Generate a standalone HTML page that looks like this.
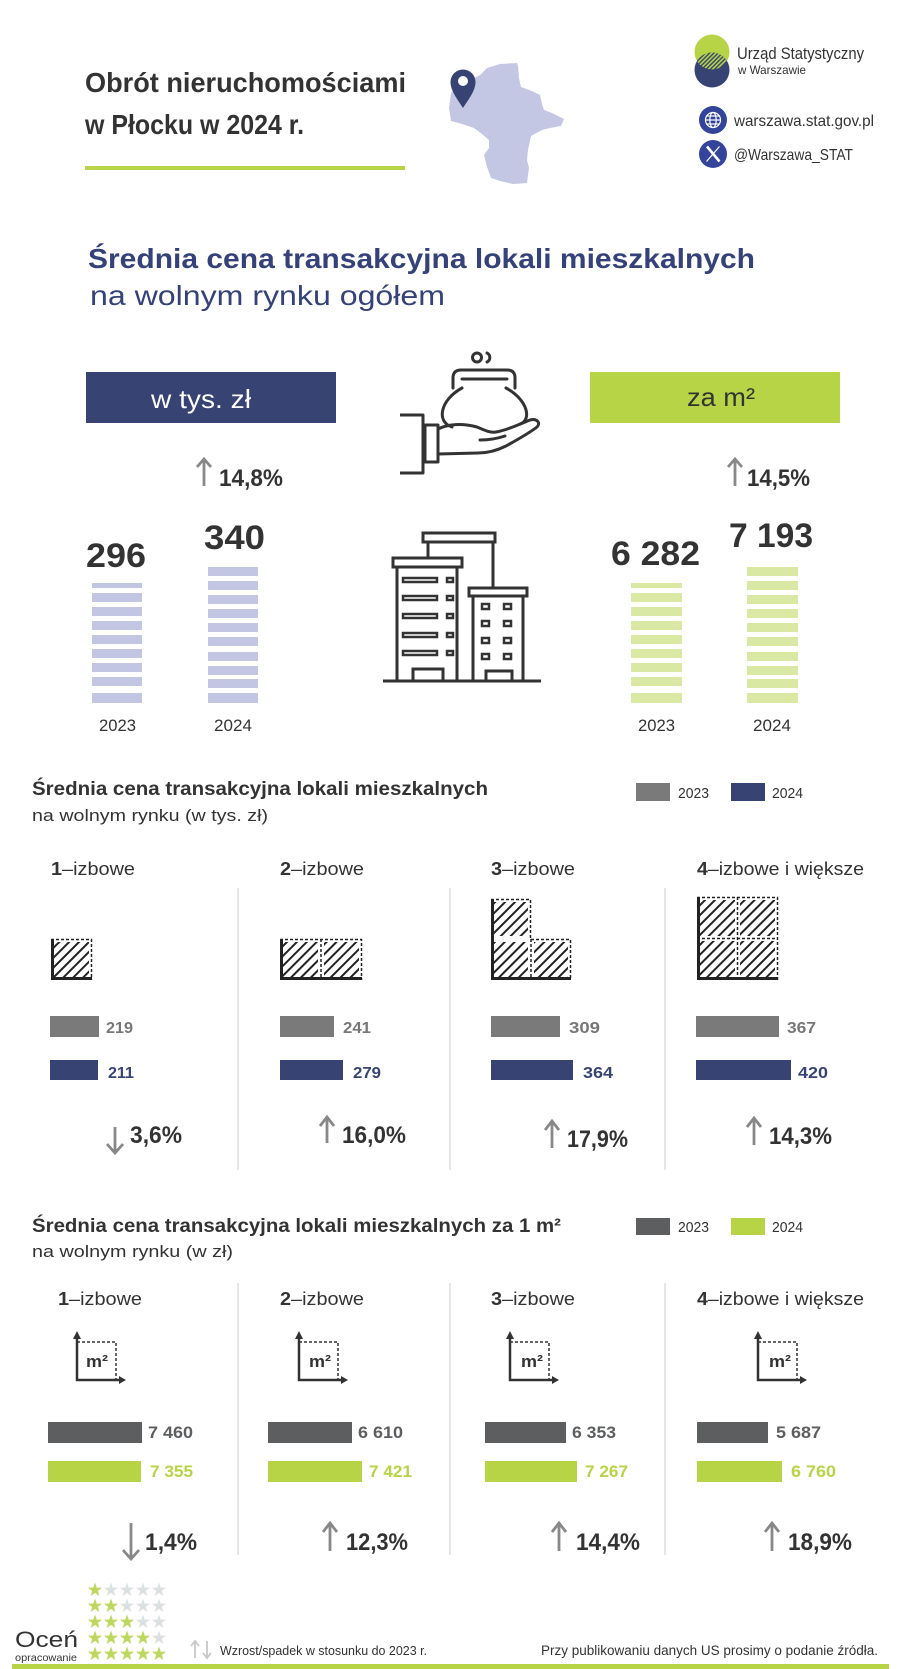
<!DOCTYPE html>
<html><head><meta charset="utf-8">
<style>
html,body{margin:0;padding:0;background:#fff}
svg{display:block}
text{font-family:"Liberation Sans",sans-serif}
</style></head>
<body>
<svg width="900" height="1669" viewBox="0 0 900 1669" xmlns="http://www.w3.org/2000/svg">
<defs>
  <pattern id="hatch" width="7" height="7" patternUnits="userSpaceOnUse" patternTransform="rotate(45)">
    <line x1="1" y1="0" x2="1" y2="7" stroke="#222" stroke-width="2"/>
  </pattern>
  <pattern id="lhatch" width="3" height="3" patternUnits="userSpaceOnUse" patternTransform="rotate(45)">
    <rect width="3" height="3" fill="#374373"/>
    <line x1="0.8" y1="0" x2="0.8" y2="3" stroke="#b6d445" stroke-width="1.6"/>
  </pattern>
  <clipPath id="clipG"><circle cx="712" cy="52" r="17.5"/></clipPath>
  <path id="star" d="M0,-7.5 L1.76,-2.43 L7.13,-2.32 L2.85,0.93 L4.41,6.07 L0,3 L-4.41,6.07 L-2.85,0.93 L-7.13,-2.32 L-1.76,-2.43 Z"/>
</defs>

<!-- HEADER -->
<text x="85" y="92" font-size="28" font-weight="bold" fill="#333" textLength="321" lengthAdjust="spacingAndGlyphs">Obrót nieruchomościami</text>
<text x="85" y="134" font-size="28" font-weight="bold" fill="#333" textLength="219" lengthAdjust="spacingAndGlyphs">w Płocku w 2024 r.</text>
<rect x="85" y="166" width="320" height="4" fill="#b6d445"/>

<!-- map -->
<polygon fill="#c3c7e3" points="487,68 500,64 517,63 518,66 519,78 521,87 532,91 540,95 542,104 544,110 552,113 564,119 561,126 550,128 542,130 531,136 528,150 527,160 529,168 527,183 513,184 500,181 491,178 487,167 484,155 489,148 489,140 482,134 474,128 462,124 451,121 449,108 451,93 458,86 470,80 480,75"/>
<path d="M463,108 C458,100 450.5,91 450.5,82 A12.5,12.5 0 1 1 475.5,82 C475.5,91 468,100 463,108 Z" fill="#374373"/>
<circle cx="463" cy="81" r="5" fill="#fff"/>

<!-- logo -->
<circle cx="712" cy="52" r="17.5" fill="#b6d445"/>
<circle cx="712" cy="70" r="17.5" fill="#374373"/>
<g clip-path="url(#clipG)"><circle cx="712" cy="70" r="17.5" fill="url(#lhatch)"/></g>
<text x="737" y="59" font-size="17" fill="#333" textLength="127" lengthAdjust="spacingAndGlyphs">Urząd Statystyczny</text>
<text x="738" y="74" font-size="12" fill="#333" textLength="68" lengthAdjust="spacingAndGlyphs">w Warszawie</text>

<circle cx="713" cy="120" r="14" fill="#34449a"/>
<g fill="none" stroke="#fff" stroke-width="1.2">
  <circle cx="713" cy="120" r="7.5"/>
  <ellipse cx="713" cy="120" rx="3.2" ry="7.5"/>
  <line x1="705.5" y1="120" x2="720.5" y2="120"/>
  <line x1="707" y1="116" x2="719" y2="116"/>
  <line x1="707" y1="124" x2="719" y2="124"/>
</g>
<text x="734" y="126" font-size="16" fill="#333" textLength="140" lengthAdjust="spacingAndGlyphs">warszawa.stat.gov.pl</text>

<circle cx="713" cy="154" r="14" fill="#34449a"/>
<g stroke="#fff" fill="none">
  <line x1="707" y1="146.5" x2="719.5" y2="161.5" stroke-width="2.6"/>
  <line x1="719.5" y1="146.5" x2="706.5" y2="161.5" stroke-width="1.2"/>
</g>
<text x="734" y="160" font-size="16" fill="#333" textLength="119" lengthAdjust="spacingAndGlyphs">@Warszawa_STAT</text>

<!-- main heading -->
<text x="88" y="268" font-size="28" font-weight="bold" fill="#35427a" textLength="667" lengthAdjust="spacingAndGlyphs">Średnia cena transakcyjna lokali mieszkalnych</text>
<text x="90" y="305" font-size="28" fill="#35427a" textLength="355" lengthAdjust="spacingAndGlyphs">na wolnym rynku ogółem</text>

<!-- boxes -->
<rect x="86" y="372" width="250" height="51" fill="#374373"/>
<text x="151" y="408" font-size="26" fill="#fff" textLength="100" lengthAdjust="spacingAndGlyphs">w tys. zł</text>
<rect x="590" y="372" width="250" height="51" fill="#b6d445"/>
<text x="687" y="406" font-size="26" fill="#333" textLength="68" lengthAdjust="spacingAndGlyphs">za m²</text>

<!-- hand & purse icon -->
<g fill="none" stroke="#333" stroke-width="3" stroke-linecap="round" stroke-linejoin="round">
  <circle cx="477" cy="357.5" r="4.5"/>
  <path d="M487,353 A5,5 0 0 1 487,362"/>
  <path d="M453,388 V378 Q453,370 461,370 H507 Q515,370 515,378 V388"/>
  <line x1="462" y1="379" x2="507" y2="379"/>
  <path d="M462,388 C440,400 436,422 452,427"/>
  <path d="M506,388 C528,400 532,420 520,424"/>
  <path d="M400,415 H423 V473 H400" stroke-linecap="butt"/>
  <rect x="425" y="425" width="13" height="37"/>
  <path d="M438,429 C448,424 462,423 477,427 C484,430 490,433 496,432 C508,430 520,424 530,420 C537,418 541,423 537,427 C528,434 515,441 506,446 C496,451 488,453 478,453 L438,454"/>
  <path d="M480,440 C488,440 496,439 505,436"/>
</g>

<!-- building icon -->
<g fill="#fff" stroke="#333" stroke-width="3">
  <line x1="383" y1="681" x2="541" y2="681"/>
  <line x1="428" y1="542" x2="428" y2="557"/>
  <line x1="493" y1="542" x2="493" y2="587"/>
  <rect x="423" y="533" width="72" height="9"/>
  <rect x="393" y="558" width="69" height="9"/>
  <path d="M397,567 V681 M457,567 V681" fill="none"/>
  <g stroke-width="2.5">
    <rect x="403" y="578" width="34" height="4"/><rect x="447" y="578" width="6" height="4"/>
    <rect x="403" y="596" width="34" height="4"/><rect x="447" y="596" width="6" height="4"/>
    <rect x="403" y="614" width="34" height="4"/><rect x="447" y="614" width="6" height="4"/>
    <rect x="403" y="633" width="34" height="4"/><rect x="447" y="633" width="6" height="4"/>
    <rect x="403" y="651" width="34" height="4"/><rect x="447" y="651" width="6" height="4"/>
  </g>
  <path d="M413,681 V669 H443 V681" fill="none"/>
  <rect x="469" y="588" width="58" height="8"/>
  <path d="M473,596 V681 M523,596 V681" fill="none"/>
  <g stroke-width="2.5">
    <rect x="482" y="604" width="7" height="5"/><rect x="504" y="604" width="7" height="5"/>
    <rect x="482" y="621" width="7" height="5"/><rect x="504" y="621" width="7" height="5"/>
    <rect x="482" y="638" width="7" height="5"/><rect x="504" y="638" width="7" height="5"/>
    <rect x="482" y="654" width="7" height="5"/><rect x="504" y="654" width="7" height="5"/>
  </g>
  <path d="M486,681 V671 H512 V681" fill="none"/>
</g>

<!-- top percentages -->
<g fill="none" stroke="#888" stroke-width="2.8">
  <path d="M204,486 V460 M197,467 L204,459 L211,467"/>
  <path d="M735,486 V460 M728,467 L735,459 L742,467"/>
</g>
<text x="219" y="486" font-size="24" font-weight="bold" fill="#333" textLength="64" lengthAdjust="spacingAndGlyphs">14,8%</text>
<text x="747" y="486" font-size="24" font-weight="bold" fill="#333" textLength="63" lengthAdjust="spacingAndGlyphs">14,5%</text>

<!-- big numbers -->
<text x="86" y="567" font-size="34" font-weight="bold" fill="#333" textLength="60" lengthAdjust="spacingAndGlyphs">296</text>
<text x="204" y="549" font-size="34" font-weight="bold" fill="#333" textLength="61" lengthAdjust="spacingAndGlyphs">340</text>
<text x="611" y="565" font-size="34" font-weight="bold" fill="#333" textLength="89" lengthAdjust="spacingAndGlyphs">6 282</text>
<text x="729" y="547" font-size="34" font-weight="bold" fill="#333" textLength="84" lengthAdjust="spacingAndGlyphs">7 193</text>

<!-- stripes -->
<g fill="#c3c6e2">
  <rect x="92" y="583" width="50" height="5"/>
  <rect x="92" y="593" width="50" height="9"/>
  <rect x="92" y="607" width="50" height="9"/>
  <rect x="92" y="621" width="50" height="9"/>
  <rect x="92" y="635" width="50" height="9"/>
  <rect x="92" y="649" width="50" height="9"/>
  <rect x="92" y="663" width="50" height="9"/>
  <rect x="92" y="677" width="50" height="9"/>
  <rect x="92" y="693" width="50" height="10"/>
  <rect x="208" y="567" width="50" height="9"/>
  <rect x="208" y="581" width="50" height="9"/>
  <rect x="208" y="595" width="50" height="9"/>
  <rect x="208" y="609" width="50" height="9"/>
  <rect x="208" y="623" width="50" height="9"/>
  <rect x="208" y="637" width="50" height="9"/>
  <rect x="208" y="652" width="50" height="9"/>
  <rect x="208" y="666" width="50" height="9"/>
  <rect x="208" y="679" width="50" height="9"/>
  <rect x="208" y="693" width="50" height="10"/>
</g>
<g fill="#d9e9a4">
  <rect x="631" y="583" width="51" height="5"/>
  <rect x="631" y="593" width="51" height="9"/>
  <rect x="631" y="607" width="51" height="9"/>
  <rect x="631" y="621" width="51" height="9"/>
  <rect x="631" y="635" width="51" height="9"/>
  <rect x="631" y="649" width="51" height="9"/>
  <rect x="631" y="663" width="51" height="9"/>
  <rect x="631" y="677" width="51" height="9"/>
  <rect x="631" y="693" width="51" height="10"/>
  <rect x="747" y="567" width="51" height="9"/>
  <rect x="747" y="581" width="51" height="9"/>
  <rect x="747" y="595" width="51" height="9"/>
  <rect x="747" y="609" width="51" height="9"/>
  <rect x="747" y="623" width="51" height="9"/>
  <rect x="747" y="637" width="51" height="9"/>
  <rect x="747" y="652" width="51" height="9"/>
  <rect x="747" y="666" width="51" height="9"/>
  <rect x="747" y="679" width="51" height="9"/>
  <rect x="747" y="693" width="51" height="10"/>
</g>
<g font-size="17" fill="#333">
  <text x="99" y="731" textLength="37" lengthAdjust="spacingAndGlyphs">2023</text>
  <text x="214" y="731" textLength="38" lengthAdjust="spacingAndGlyphs">2024</text>
  <text x="638" y="731" textLength="37" lengthAdjust="spacingAndGlyphs">2023</text>
  <text x="753" y="731" textLength="38" lengthAdjust="spacingAndGlyphs">2024</text>
</g>

<!-- SECTION 2 -->
<text x="32" y="795" font-size="19" font-weight="bold" fill="#333" textLength="456" lengthAdjust="spacingAndGlyphs">Średnia cena transakcyjna lokali mieszkalnych</text>
<text x="32" y="821" font-size="17" fill="#333" textLength="236" lengthAdjust="spacingAndGlyphs">na wolnym rynku (w tys. zł)</text>
<rect x="636" y="783" width="34" height="18" fill="#7a7a7a"/>
<text x="678" y="798" font-size="15" fill="#333" textLength="31" lengthAdjust="spacingAndGlyphs">2023</text>
<rect x="731" y="783" width="34" height="18" fill="#374373"/>
<text x="772" y="798" font-size="15" fill="#333" textLength="31" lengthAdjust="spacingAndGlyphs">2024</text>

<g font-size="18" fill="#333">
  <text x="51" y="875" textLength="84" lengthAdjust="spacingAndGlyphs"><tspan font-weight="bold">1</tspan>–izbowe</text>
  <text x="280" y="875" textLength="84" lengthAdjust="spacingAndGlyphs"><tspan font-weight="bold">2</tspan>–izbowe</text>
  <text x="491" y="875" textLength="84" lengthAdjust="spacingAndGlyphs"><tspan font-weight="bold">3</tspan>–izbowe</text>
  <text x="697" y="875" textLength="167" lengthAdjust="spacingAndGlyphs"><tspan font-weight="bold">4</tspan>–izbowe i większe</text>
</g>
<g stroke="#dedede" stroke-width="1.5">
  <line x1="238" y1="888" x2="238" y2="1170"/>
  <line x1="450" y1="888" x2="450" y2="1170"/>
  <line x1="665" y1="888" x2="665" y2="1170"/>
</g>

<!-- hatched rooms -->
<g>
  <rect x="54" y="942" width="35" height="35" fill="url(#hatch)"/>
  <rect x="283" y="942" width="35" height="35" fill="url(#hatch)"/>
  <rect x="324" y="942" width="35" height="35" fill="url(#hatch)"/>
  <rect x="494" y="902" width="34" height="34" fill="url(#hatch)"/>
  <rect x="494" y="942" width="34" height="35" fill="url(#hatch)"/>
  <rect x="534" y="942" width="34" height="35" fill="url(#hatch)"/>
  <rect x="700" y="900" width="35" height="36" fill="url(#hatch)"/>
  <rect x="740" y="900" width="35" height="36" fill="url(#hatch)"/>
  <rect x="700" y="941" width="35" height="36" fill="url(#hatch)"/>
  <rect x="740" y="941" width="35" height="36" fill="url(#hatch)"/>
</g>
<g fill="none" stroke="#222" stroke-width="1.5" stroke-dasharray="3,2">
  <path d="M51,939.5 H91.5 V980"/>
  <path d="M280,939.5 H361.5 V980 M321,939 V980"/>
  <path d="M491,899.5 H530.5 V939.5 H570.5 V980 M531,939 V980"/>
  <path d="M697,897.5 H777.5 V980 M737.5,897 V980 M697,938.5 H778"/>
</g>
<g fill="none" stroke="#222" stroke-width="3">
  <path d="M52.5,939 V978.5 H92"/>
  <path d="M281.5,939 V978.5 H362"/>
  <path d="M492.5,899 V978.5 H571"/>
  <path d="M698.5,897 V978.5 H778"/>
</g>

<!-- bars section 2 -->
<g fill="#7a7a7a">
  <rect x="50" y="1016" width="49" height="21"/>
  <rect x="280" y="1016" width="54" height="21"/>
  <rect x="491" y="1016" width="69" height="21"/>
  <rect x="696" y="1016" width="83" height="21"/>
</g>
<g fill="#374373">
  <rect x="50" y="1060" width="48" height="20"/>
  <rect x="280" y="1060" width="63" height="20"/>
  <rect x="491" y="1060" width="82" height="20"/>
  <rect x="696" y="1060" width="95" height="20"/>
</g>
<g font-size="16" font-weight="bold" fill="#777">
  <text x="106" y="1033" textLength="27" lengthAdjust="spacingAndGlyphs">219</text>
  <text x="343" y="1033" textLength="28" lengthAdjust="spacingAndGlyphs">241</text>
  <text x="569" y="1033" textLength="31" lengthAdjust="spacingAndGlyphs">309</text>
  <text x="787" y="1033" textLength="29" lengthAdjust="spacingAndGlyphs">367</text>
</g>
<g font-size="16" font-weight="bold" fill="#374373">
  <text x="108" y="1078" textLength="26" lengthAdjust="spacingAndGlyphs">211</text>
  <text x="353" y="1078" textLength="28" lengthAdjust="spacingAndGlyphs">279</text>
  <text x="583" y="1078" textLength="30" lengthAdjust="spacingAndGlyphs">364</text>
  <text x="798" y="1078" textLength="30" lengthAdjust="spacingAndGlyphs">420</text>
</g>

<g fill="none" stroke="#888" stroke-width="2.8">
  <path d="M115,1127 V1152 M107,1144 L115,1153 L123,1144"/>
  <path d="M327,1143 V1118 M320,1126 L327,1117 L334,1126"/>
  <path d="M552,1148 V1122 M545,1130 L552,1121 L559,1130"/>
  <path d="M754,1145 V1119 M747,1127 L754,1118 L761,1127"/>
</g>
<g font-size="24" font-weight="bold" fill="#333">
  <text x="130" y="1143" textLength="52" lengthAdjust="spacingAndGlyphs">3,6%</text>
  <text x="342" y="1143" textLength="64" lengthAdjust="spacingAndGlyphs">16,0%</text>
  <text x="567" y="1147" textLength="61" lengthAdjust="spacingAndGlyphs">17,9%</text>
  <text x="769" y="1144" textLength="63" lengthAdjust="spacingAndGlyphs">14,3%</text>
</g>

<!-- SECTION 3 -->
<text x="32" y="1232" font-size="19" font-weight="bold" fill="#333" textLength="529" lengthAdjust="spacingAndGlyphs">Średnia cena transakcyjna lokali mieszkalnych za 1 m²</text>
<text x="32" y="1257" font-size="17" fill="#333" textLength="201" lengthAdjust="spacingAndGlyphs">na wolnym rynku (w zł)</text>
<rect x="636" y="1218" width="34" height="17" fill="#5d5e60"/>
<text x="678" y="1232" font-size="15" fill="#333" textLength="31" lengthAdjust="spacingAndGlyphs">2023</text>
<rect x="731" y="1218" width="34" height="17" fill="#b6d445"/>
<text x="772" y="1232" font-size="15" fill="#333" textLength="31" lengthAdjust="spacingAndGlyphs">2024</text>

<g font-size="18" fill="#333">
  <text x="58" y="1305" textLength="84" lengthAdjust="spacingAndGlyphs"><tspan font-weight="bold">1</tspan>–izbowe</text>
  <text x="280" y="1305" textLength="84" lengthAdjust="spacingAndGlyphs"><tspan font-weight="bold">2</tspan>–izbowe</text>
  <text x="491" y="1305" textLength="84" lengthAdjust="spacingAndGlyphs"><tspan font-weight="bold">3</tspan>–izbowe</text>
  <text x="697" y="1305" textLength="167" lengthAdjust="spacingAndGlyphs"><tspan font-weight="bold">4</tspan>–izbowe i większe</text>
</g>
<g stroke="#dedede" stroke-width="1.5">
  <line x1="238" y1="1283" x2="238" y2="1555"/>
  <line x1="450" y1="1283" x2="450" y2="1555"/>
  <line x1="665" y1="1283" x2="665" y2="1555"/>
</g>

<!-- m2 icons -->
<g>
  <g fill="none" stroke="#333" stroke-width="1.5" stroke-dasharray="3,2">
    <path d="M77,1342 H116 V1380"/>
    <path d="M299,1342 H338 V1380"/>
    <path d="M510,1342 H549 V1380"/>
    <path d="M758,1342 H797 V1380"/>
  </g>
  <g fill="none" stroke="#333" stroke-width="2.5">
    <path d="M77,1337 V1380 H120"/>
    <path d="M299,1337 V1380 H342"/>
    <path d="M510,1337 V1380 H553"/>
    <path d="M758,1337 V1380 H801"/>
  </g>
  <g fill="#333">
    <polygon points="73,1339 77,1331 81,1339"/><polygon points="119,1376 126,1380 119,1384"/>
    <polygon points="295,1339 299,1331 303,1339"/><polygon points="341,1376 348,1380 341,1384"/>
    <polygon points="506,1339 510,1331 514,1339"/><polygon points="552,1376 559,1380 552,1384"/>
    <polygon points="754,1339 758,1331 762,1339"/><polygon points="800,1376 807,1380 800,1384"/>
  </g>
  <g font-size="17" font-weight="bold" fill="#333">
    <text x="86" y="1367" textLength="22" lengthAdjust="spacingAndGlyphs">m²</text>
    <text x="309" y="1367" textLength="22" lengthAdjust="spacingAndGlyphs">m²</text>
    <text x="521" y="1367" textLength="22" lengthAdjust="spacingAndGlyphs">m²</text>
    <text x="769" y="1367" textLength="22" lengthAdjust="spacingAndGlyphs">m²</text>
  </g>
</g>

<!-- bars section 3 -->
<g fill="#5d5e60">
  <rect x="48" y="1422" width="94" height="21"/>
  <rect x="268" y="1422" width="84" height="21"/>
  <rect x="485" y="1422" width="81" height="21"/>
  <rect x="697" y="1422" width="71" height="21"/>
</g>
<g fill="#b6d445">
  <rect x="48" y="1461" width="93" height="21"/>
  <rect x="268" y="1461" width="94" height="21"/>
  <rect x="485" y="1461" width="92" height="21"/>
  <rect x="697" y="1461" width="85" height="21"/>
</g>
<g font-size="17" font-weight="bold" fill="#5d5e60">
  <text x="148" y="1438" textLength="45" lengthAdjust="spacingAndGlyphs">7 460</text>
  <text x="358" y="1438" textLength="45" lengthAdjust="spacingAndGlyphs">6 610</text>
  <text x="572" y="1438" textLength="44" lengthAdjust="spacingAndGlyphs">6 353</text>
  <text x="776" y="1438" textLength="45" lengthAdjust="spacingAndGlyphs">5 687</text>
</g>
<g font-size="17" font-weight="bold" fill="#b6d445">
  <text x="150" y="1477" textLength="43" lengthAdjust="spacingAndGlyphs">7 355</text>
  <text x="369" y="1477" textLength="43" lengthAdjust="spacingAndGlyphs">7 421</text>
  <text x="585" y="1477" textLength="43" lengthAdjust="spacingAndGlyphs">7 267</text>
  <text x="791" y="1477" textLength="45" lengthAdjust="spacingAndGlyphs">6 760</text>
</g>

<g fill="none" stroke="#888" stroke-width="2.8">
  <path d="M131,1523 V1558 M123,1550 L131,1559 L139,1550"/>
  <path d="M330,1551 V1524 M323,1532 L330,1523 L337,1532"/>
  <path d="M559,1551 V1524 M552,1532 L559,1523 L566,1532"/>
  <path d="M772,1551 V1524 M765,1532 L772,1523 L779,1532"/>
</g>
<g font-size="24" font-weight="bold" fill="#333">
  <text x="145" y="1550" textLength="52" lengthAdjust="spacingAndGlyphs">1,4%</text>
  <text x="346" y="1550" textLength="62" lengthAdjust="spacingAndGlyphs">12,3%</text>
  <text x="576" y="1550" textLength="64" lengthAdjust="spacingAndGlyphs">14,4%</text>
  <text x="788" y="1550" textLength="64" lengthAdjust="spacingAndGlyphs">18,9%</text>
</g>

<!-- FOOTER -->
<g>
  <use href="#star" x="95" y="1590" fill="#bcd85f"/><use href="#star" x="111" y="1590" fill="#dde1e4"/><use href="#star" x="127" y="1590" fill="#dde1e4"/><use href="#star" x="143" y="1590" fill="#dde1e4"/><use href="#star" x="159" y="1590" fill="#dde1e4"/>
  <use href="#star" x="95" y="1606" fill="#bcd85f"/><use href="#star" x="111" y="1606" fill="#bcd85f"/><use href="#star" x="127" y="1606" fill="#dde1e4"/><use href="#star" x="143" y="1606" fill="#dde1e4"/><use href="#star" x="159" y="1606" fill="#dde1e4"/>
  <use href="#star" x="95" y="1622" fill="#bcd85f"/><use href="#star" x="111" y="1622" fill="#bcd85f"/><use href="#star" x="127" y="1622" fill="#bcd85f"/><use href="#star" x="143" y="1622" fill="#dde1e4"/><use href="#star" x="159" y="1622" fill="#dde1e4"/>
  <use href="#star" x="95" y="1638" fill="#bcd85f"/><use href="#star" x="111" y="1638" fill="#bcd85f"/><use href="#star" x="127" y="1638" fill="#bcd85f"/><use href="#star" x="143" y="1638" fill="#bcd85f"/><use href="#star" x="159" y="1638" fill="#dde1e4"/>
  <use href="#star" x="95" y="1654" fill="#bcd85f"/><use href="#star" x="111" y="1654" fill="#bcd85f"/><use href="#star" x="127" y="1654" fill="#bcd85f"/><use href="#star" x="143" y="1654" fill="#bcd85f"/><use href="#star" x="159" y="1654" fill="#bcd85f"/>
</g>
<text x="15" y="1647" font-size="22" fill="#333" textLength="63" lengthAdjust="spacingAndGlyphs">Oceń</text>
<text x="15" y="1661" font-size="10.5" fill="#333" textLength="62" lengthAdjust="spacingAndGlyphs">opracowanie</text>

<g fill="none" stroke="#c8c8c8" stroke-width="1.8">
  <path d="M195,1658 V1642 M191,1646 L195,1641 L199,1646"/>
  <path d="M207,1641 V1657 M203,1653 L207,1658 L211,1653"/>
</g>
<text x="220" y="1655" font-size="12.5" fill="#333" textLength="207" lengthAdjust="spacingAndGlyphs">Wzrost/spadek w stosunku do 2023 r.</text>
<text x="541" y="1655" font-size="13.5" fill="#333" textLength="337" lengthAdjust="spacingAndGlyphs">Przy publikowaniu danych US prosimy o podanie źródła.</text>
<rect x="12" y="1664" width="877" height="5" fill="#b6d445"/>
</svg>
</body></html>
